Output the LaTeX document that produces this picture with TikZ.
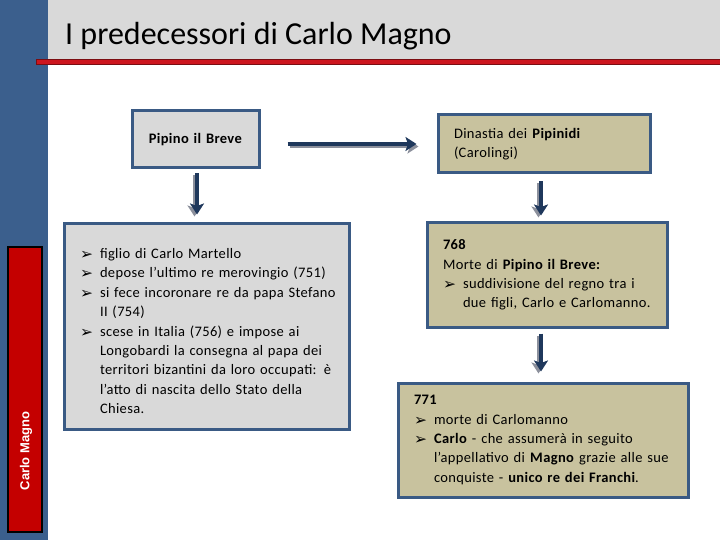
\documentclass[tikz,border=0pt]{standalone}
\usepackage{fontspec}
\setmainfont{Carlito}
\newfontfamily\boxfont[LetterSpace=2.5]{Carlito}
\newfontfamily\dejavu{DejaVu Sans}
\newfontfamily\arialfont{Liberation Sans}
\usetikzlibrary{arrows.meta}
\definecolor{sidebar}{RGB}{59,95,141}
\definecolor{headgray}{RGB}{217,217,217}
\definecolor{redline}{RGB}{205,22,30}
\definecolor{redbox}{RGB}{196,0,0}
\definecolor{boxborder}{RGB}{58,90,132}
\definecolor{boxgray}{RGB}{217,217,217}
\definecolor{boxtan}{RGB}{200,194,158}
\definecolor{arrowblue}{RGB}{31,56,92}
\definecolor{shadowgray}{RGB}{140,144,156}
\hyphenpenalty=10000
\hfuzz=30pt
\newcommand{\bul}{\makebox[20pt][l]{\raisebox{-1pt}{\dejavu\fontsize{15.5}{15.5}\selectfont ➢}}}
\newcommand{\itm}{\par\hangindent=20pt\hangafter=1\noindent\bul}
\tikzset{
  infobox/.style={draw=boxborder, line width=3pt, inner xsep=16pt, inner ysep=0pt,
    align=left, font=\boxfont\fontsize{14.5}{19.4}\selectfont},
  arr/.style={line width=4pt, draw=arrowblue,
    -{Stealth[length=11pt,width=14pt,inset=2.5pt]}},
  hshadow/.style={arr, draw=shadowgray, transform canvas={shift={(2pt,-2.5pt)}}},
  vshadow/.style={arr, draw=shadowgray, transform canvas={shift={(-2.5pt,-2pt)}}}
}
\begin{document}
\begin{tikzpicture}[x=1pt,y=-1pt]
\useasboundingbox (0,0) rectangle (720,540);
% background elements
\fill[headgray] (48,0) rectangle (720,59);
\fill[sidebar] (0,0) rectangle (48,540);
\draw[redline!60!black, fill=redline, line width=0.6pt] (36,59) rectangle (720,64);
\node[anchor=base west, font=\fontsize{32}{34}\selectfont, inner sep=0pt] (title) at (65,45) {I predecessori di Carlo Magno};
\draw[black, line width=1.5pt, fill=redbox] (8,247) rectangle (42,532);
\node[rotate=90, text=white, font=\arialfont\bfseries\fontsize{13}{13}\selectfont, inner sep=0pt] (side) at (26,451) {Carlo Magno};
% boxes
\node[infobox, fill=boxgray, minimum width=127pt, minimum height=57pt, text width=95pt, align=center] (pip) at (195.5,139.5) {\textbf{Pipino il Breve}};
\node[infobox, fill=boxgray, minimum height=205pt, text width=253pt] (lbox) at (206.5,326.5) {%
\itm figlio di Carlo Martello
\itm depose l’ultimo re merovingio (751)
\itm \mbox{si fece incoronare re da papa Stefano}\newline II (754)
\itm scese in Italia (756) e impose ai\newline Longobardi la consegna al papa dei\newline \mbox{territori bizantini da loro occupati: è}\newline l’atto di nascita dello Stato della\newline Chiesa.\par};
\node[infobox, fill=boxtan, minimum height=58pt, text width=180pt] (din) at (544,144) {Dinastia dei \textbf{Pipinidi}\newline (Carolingi)};
\node[infobox, fill=boxtan, minimum height=104pt, text width=208pt] (b768) at (547,275) {%
\textbf{768}\newline Morte di \textbf{Pipino il Breve:}
\itm suddivisione del regno tra i\newline due figli, Carlo e Carlomanno.\par};
\node[infobox, fill=boxtan, minimum height=114pt, text width=258pt] (b771) at (543,440) {%
\textbf{771}
\itm morte di Carlomanno
\itm \textbf{Carlo} - che assumerà in seguito\newline l’appellativo di \textbf{Magno} grazie alle sue\newline conquiste - \textbf{unico re dei Franchi}.\par};
% arrows
\draw[hshadow, shorten <=27pt, shorten >=20pt] (pip.east|-din.west) -- (din.west);
\draw[arr, shorten <=27pt, shorten >=20pt] (pip.east|-din.west) -- (din.west);
\draw[vshadow, shorten <=4pt, shorten >=8pt] ([xshift=1.5pt]pip.south) -- ([xshift=1.5pt]pip.south|-lbox.north);
\draw[arr, shorten <=4pt, shorten >=8pt] ([xshift=1.5pt]pip.south) -- ([xshift=1.5pt]pip.south|-lbox.north);
\draw[vshadow, shorten <=7pt, shorten >=6pt] ([xshift=-3pt]din.south) -- ([xshift=-3pt]din.south|-b768.north);
\draw[arr, shorten <=7pt, shorten >=6pt] ([xshift=-3pt]din.south) -- ([xshift=-3pt]din.south|-b768.north);
\draw[vshadow, shorten <=5pt, shorten >=10pt] ([xshift=-6pt]b768.south) -- ([xshift=-6pt]b768.south|-b771.north);
\draw[arr, shorten <=5pt, shorten >=10pt] ([xshift=-6pt]b768.south) -- ([xshift=-6pt]b768.south|-b771.north);
\end{tikzpicture}
\end{document}
